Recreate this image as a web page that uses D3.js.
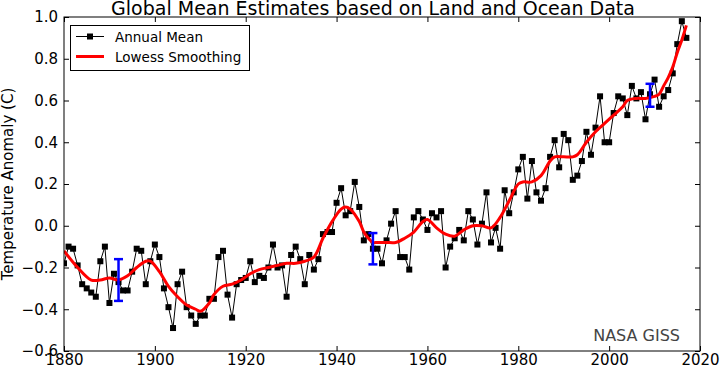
<!DOCTYPE html>
<html><head><meta charset="utf-8">
<script src="https://cdn.jsdelivr.net/npm/d3@7"></script>
<style>
html,body{margin:0;padding:0;background:#fff;}
svg{display:block;font-family:"DejaVu Sans",sans-serif;}
</style></head>
<body><svg id="c" width="720" height="368"></svg>
<script>
const startYear = 1880;
const annualMean = [
-0.18,-0.10,-0.11,-0.19,-0.28,-0.30,-0.32,-0.34,-0.17,-0.10,-0.37,-0.23,-0.27,-0.31,-0.31,-0.22,-0.11,-0.12,-0.28,-0.17,
-0.09,-0.15,-0.30,-0.39,-0.49,-0.28,-0.22,-0.39,-0.43,-0.47,-0.43,-0.43,-0.35,-0.35,-0.15,-0.12,-0.33,-0.44,-0.28,-0.26,
-0.25,-0.17,-0.27,-0.24,-0.25,-0.20,-0.09,-0.20,-0.19,-0.34,-0.14,-0.10,-0.16,-0.28,-0.14,-0.21,-0.16,-0.04,-0.03,-0.03,
0.11,0.18,0.05,0.07,0.21,0.09,-0.07,-0.04,-0.11,-0.11,-0.18,-0.07,0.01,0.07,-0.15,-0.15,-0.21,0.04,0.07,0.03,
-0.02,0.06,0.04,0.07,-0.20,-0.10,-0.06,-0.02,-0.07,0.07,0.03,-0.09,0.01,0.16,-0.08,-0.01,-0.11,0.17,0.06,0.16,
0.27,0.33,0.13,0.31,0.16,0.12,0.18,0.33,0.41,0.28,0.44,0.41,0.22,0.24,0.31,0.45,0.34,0.47,0.62,0.40,
0.40,0.54,0.62,0.61,0.53,0.67,0.61,0.64,0.51,0.63,0.70,0.57,0.62,0.65,0.73,0.87,0.98,0.90];
const years = annualMean.map((_, i) => startYear + i);

const lowessYears = [1880,1883,1886,1888,1890,1892,1894,1896,1898,1899,1901,1903,1905,1907,1909,1910,1912,1913,1915,1917,1919,1921,1923,1925,1927,1929,1931,1933,1935,1937,1939,1941,1942,1943,1945,1946,1947,1948,1949,1951,1953,1955,1957,1959,1960,1962,1964,1966,1968,1970,1972,1974,1976,1978,1980,1981,1983,1985,1987,1988,1990,1992,1993,1995,1997,1999,2001,2003,2004,2006,2008,2010,2011,2012,2013,2014,2015,2016,2017];
const lowessValues = [-0.12,-0.20,-0.26,-0.26,-0.25,-0.26,-0.24,-0.20,-0.17,-0.17,-0.22,-0.29,-0.34,-0.38,-0.40,-0.41,-0.37,-0.33,-0.29,-0.28,-0.26,-0.23,-0.21,-0.20,-0.19,-0.18,-0.18,-0.17,-0.15,-0.06,0.02,0.08,0.09,0.08,0.02,-0.03,-0.06,-0.08,-0.08,-0.08,-0.08,-0.06,-0.03,0.02,0.03,-0.01,-0.04,-0.05,-0.02,0.00,0.00,-0.01,0.04,0.12,0.20,0.21,0.21,0.24,0.31,0.33,0.33,0.33,0.34,0.40,0.45,0.49,0.53,0.57,0.60,0.61,0.61,0.62,0.63,0.67,0.71,0.76,0.83,0.89,0.96];

const errYears = [1892, 1948, 2009];
const errCenters = [-0.26, -0.11, 0.625];
const errHalf = [0.10, 0.075, 0.055];

const xTicks = [1880,1900,1920,1940,1960,1980,2000,2020];
const yTicks = [-0.6,-0.4,-0.2,0.0,0.2,0.4,0.6,0.8,1.0];

const titleText = "Global Mean Estimates based on Land and Ocean Data";
const yLabel = "Temperature Anomaly (C)";
const legendLabels = ["Annual Mean", "Lowess Smoothing"];
const creditText = "NASA GISS";

const L = 64, R = 700, T = 17, B = 351;
const svg = d3.select("#c");
const x = d3.scaleLinear().domain([1880, 2020]).range([L, R]);
const y = d3.scaleLinear().domain([-0.6, 1.0]).range([B, T]);

const fmtY = d => d3.format(".1f")(d).replace("-", "\u2212");

// plot content (clipped)
svg.append("clipPath").attr("id","clip").append("rect")
  .attr("x", L).attr("y", T).attr("width", R - L).attr("height", B - T);
const g = svg.append("g").attr("clip-path", "url(#clip)");

// annual line
g.append("path")
  .datum(years.map((yr, i) => [yr, annualMean[i]]))
  .attr("fill","none").attr("stroke","#000").attr("stroke-width",1)
  .attr("d", d3.line().x(d => x(d[0])).y(d => y(d[1])));
// markers
g.selectAll("rect.m").data(years.map((yr, i) => [yr, annualMean[i]]))
  .enter().append("rect").attr("class","m")
  .attr("x", d => x(d[0]) - 3).attr("y", d => y(d[1]) - 3)
  .attr("width", 6).attr("height", 6).attr("fill","#000");

// lowess
g.append("path")
  .datum(lowessYears.map((yr, i) => [yr, lowessValues[i]]))
  .attr("fill","none").attr("stroke","#ff0000").attr("stroke-width",3)
  .attr("stroke-linejoin","round")
  .attr("d", d3.line().x(d => x(d[0])).y(d => y(d[1])).curve(d3.curveCatmullRom.alpha(0.5)));

// error bars
const eg = svg.append("g").attr("stroke","#0000ff").attr("stroke-width",2.5);
errYears.forEach((yr, i) => {
  const cx = x(yr), y1 = y(errCenters[i] + errHalf[i]), y2 = y(errCenters[i] - errHalf[i]);
  eg.append("line").attr("x1",cx).attr("x2",cx).attr("y1",y1).attr("y2",y2);
  eg.append("line").attr("x1",cx-4.5).attr("x2",cx+4.5).attr("y1",y1).attr("y2",y1);
  eg.append("line").attr("x1",cx-4.5).attr("x2",cx+4.5).attr("y1",y2).attr("y2",y2);
});

// axes (inward ticks, all four sides)
const tickLen = 5;
const ax = svg.append("g");
ax.append("g").attr("transform",`translate(0,${B})`)
  .call(d3.axisBottom(x).tickValues(xTicks).tickFormat(d3.format("d")).tickSizeInner(-tickLen).tickSizeOuter(0).tickPadding(3));
ax.append("g").attr("transform",`translate(0,${T})`)
  .call(d3.axisTop(x).tickValues(xTicks).tickFormat("").tickSizeInner(-tickLen).tickSizeOuter(0));
ax.append("g").attr("transform",`translate(${L},0)`)
  .call(d3.axisLeft(y).tickValues(yTicks).tickFormat(fmtY).tickSizeInner(-tickLen).tickSizeOuter(0).tickPadding(6));
ax.append("g").attr("transform",`translate(${R},0)`)
  .call(d3.axisRight(y).tickValues(yTicks).tickFormat("").tickSizeInner(-tickLen).tickSizeOuter(0));
ax.selectAll(".domain").remove();
ax.selectAll("line").attr("stroke","#000");
ax.selectAll("text").attr("font-family","DejaVu Sans").attr("font-size",15).attr("fill","#000");

svg.append("rect").attr("x",L).attr("y",T).attr("width",R-L).attr("height",B-T)
  .attr("fill","none").attr("stroke","#000").attr("stroke-width",1);

// title
svg.append("text").attr("x",(L+R)/2 - 9).attr("y",14.5).attr("text-anchor","middle")
  .attr("font-size",19).attr("fill","#000").text(titleText);
// y label
svg.append("text").attr("transform",`translate(13,${(T+B)/2}) rotate(-90)`)
  .attr("text-anchor","middle").attr("font-size",15).attr("fill","#000").text(yLabel);

// legend
const lg = svg.append("g");
lg.append("rect").attr("x",70.5).attr("y",25.5).attr("width",179).attr("height",45)
  .attr("fill","#fff").attr("stroke","#000").attr("stroke-width",1);
lg.append("line").attr("x1",76).attr("x2",104).attr("y1",36.5).attr("y2",36.5).attr("stroke","#000").attr("stroke-width",1);
lg.append("rect").attr("x",87).attr("y",33.5).attr("width",6).attr("height",6).attr("fill","#000");
lg.append("line").attr("x1",76).attr("x2",104).attr("y1",56.5).attr("y2",56.5).attr("stroke","#ff0000").attr("stroke-width",3);
lg.append("text").attr("x",115).attr("y",41.5).attr("font-size",13.5).attr("fill","#000").text(legendLabels[0]);
lg.append("text").attr("x",115).attr("y",61.5).attr("font-size",13.5).attr("fill","#000").text(legendLabels[1]);

// credit
svg.append("text").attr("x",680).attr("y",341).attr("text-anchor","end")
  .attr("font-size",16).attr("fill","#444").text(creditText);
</script></body></html>
